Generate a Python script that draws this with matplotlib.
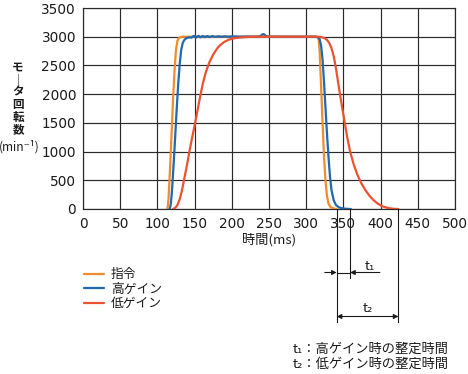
import matplotlib
matplotlib.use("Agg")
import matplotlib.pyplot as plt
from matplotlib.lines import Line2D
from matplotlib.transforms import blended_transform_factory

plt.rcParams['font.family'] = ['Noto Sans CJK JP', 'DejaVu Sans']

# ---- data (time in ms, speed in min^-1) ----
cmd_t = [113, 114, 115, 117, 119, 121, 123, 125, 127, 129, 132, 135,
         314, 316, 317, 318, 320, 322, 324, 326, 328, 330, 333, 337, 341]
cmd_v = [0, 40, 200, 700, 1300, 1900, 2400, 2780, 2930, 2980, 2998, 3000,
         3000, 2985, 2930, 2750, 2150, 1500, 900, 480, 220, 90, 30, 8, 0]

high_t = [116, 117, 118, 119, 120, 122, 124, 126, 128, 130, 132, 134, 136, 138, 140, 143, 146,
          149, 152, 155, 158, 161, 164, 167, 170, 174, 178, 182, 186, 190, 195, 200, 210,
          220, 230, 238, 241, 243, 246, 250, 260, 280, 300, 312,
          316, 318, 320, 322, 324, 326, 328, 330, 332, 334, 337, 340, 344, 349, 355, 360]
high_v = [0, 20, 90, 220, 400, 820, 1280, 1750, 2180, 2530, 2770, 2890, 2940, 2965, 2980, 2990, 2985,
          3015, 2986, 3016, 2990, 3013, 2992, 3012, 2995, 3010, 2997, 3008, 2998, 3006, 3000, 3005, 3000,
          3003, 3000, 3005, 3040, 3045, 3010, 3002, 3000, 3000, 3000, 3000,
          2990, 2960, 2850, 2600, 2200, 1750, 1300, 900, 560, 330, 150, 70, 28, 10, 3, 0]

low_t = [121, 124, 127, 130, 133, 136, 140, 143, 146, 150, 154, 157, 161, 165, 170, 175,
         180, 184, 190, 196, 202, 210, 218, 226, 240, 260, 280, 300, 316,
         320, 324, 328, 331, 334, 337, 340, 345, 350, 355, 359, 364, 369, 374, 380,
         385, 390, 396, 402, 408, 413, 418, 424]
low_v = [0, 20, 70, 170, 320, 520, 780, 1000, 1200, 1450, 1720, 1930, 2180, 2380, 2560, 2690,
         2790, 2850, 2910, 2950, 2970, 2985, 2993, 2998, 3000, 3000, 3000, 3000, 3000,
         2995, 2980, 2945, 2890, 2800, 2660, 2450, 2030, 1640, 1260, 1000, 770, 590, 450, 320,
         230, 160, 95, 50, 24, 10, 3, 0]

labels = ['指令', '高ゲイン', '低ゲイン']
colors = ['#F08C2E', '#1F68B2', '#EC5230']

xticks = [0, 50, 100, 150, 200, 250, 300, 350, 400, 450, 500]
yticks = [0, 500, 1000, 1500, 2000, 2500, 3000, 3500]

# settling-time markers (ms)
t_cmd_end = 341
t1_end = 359
t2_end = 424

notes = ['t\u2081：高ゲイン時の整定時間', 't\u2082：低ゲイン時の整定時間']

# ---- figure ----
W, H = 468, 374
fig = plt.figure(figsize=(W / 100, H / 100), dpi=100)
ax = fig.add_axes([83 / W, 1 - 209 / H, (455 - 83) / W, (209 - 8) / H])

grid_c = '#2a2a2a'
txt_c = '#1a1a1a'
lines = []
for tt, vv, lab, c in zip([cmd_t, high_t, low_t], [cmd_v, high_v, low_v], labels, colors):
    ln, = ax.plot(tt, vv, color=c, lw=1.6, label=lab, solid_capstyle='round', zorder=3)
    lines.append(ln)

ax.set_xlim(0, 500)
ax.set_ylim(0, 3500)
ax.set_xticks(xticks)
ax.set_yticks(yticks)
ax.set_xticklabels([str(v) for v in xticks], family='DejaVu Sans', fontsize=9.8, color=txt_c)
ax.set_yticklabels([str(v) for v in yticks], family='DejaVu Sans', fontsize=9.8, color=txt_c)
ax.tick_params(length=0, pad=6)
ax.tick_params(axis='y', pad=5)
ax.grid(True, color=grid_c, lw=0.85)
for s in ax.spines.values():
    s.set_color(grid_c)
    s.set_linewidth(0.85)
ax.set_xlabel('時間(ms)', fontsize=9.5, labelpad=1, color=txt_c)

# vertical y label
fig.text(18 / W, 1 - 98.5 / H, 'モ\n｜\nタ\n回\n転\n数', fontsize=8.3, ha='center', va='center',
         color=txt_c, linespacing=0.95, fontweight='bold')
fig.text(19.5 / W, 1 - 147 / H, '(min\u207b\u00b9)', fontsize=8.6, ha='center', va='center',
         color=txt_c)

# legend
fig.legend(handles=lines, labels=labels, loc='upper left', bbox_to_anchor=(84 / W, 1 - 268 / H),
           frameon=False, fontsize=9.2, handlelength=1.6, handletextpad=0.5,
           labelspacing=0.12, borderpad=0, borderaxespad=0, labelcolor=txt_c)

# settling time annotation
tr = blended_transform_factory(ax.transData, fig.transFigure)
def fy(py):
    return 1 - py / H
kw = dict(transform=tr, color=txt_c, lw=0.8, clip_on=False)
fig.add_artist(Line2D([t_cmd_end, t_cmd_end], [fy(209), fy(322)], **kw))
fig.add_artist(Line2D([t1_end, t1_end], [fy(209), fy(278)], **kw))
fig.add_artist(Line2D([t2_end, t2_end], [fy(209), fy(322)], **kw))

ap = dict(arrowstyle='-|>', color=txt_c, lw=0.8, mutation_scale=7, shrinkA=0, shrinkB=0)
ax.annotate('', xy=(t_cmd_end, fy(272.5)), xytext=(325, fy(272.5)), xycoords=tr, textcoords=tr,
            arrowprops=ap, annotation_clip=False)
ax.annotate('', xy=(t1_end, fy(272.5)), xytext=(399, fy(272.5)), xycoords=tr, textcoords=tr,
            arrowprops=ap, annotation_clip=False)
fig.add_artist(Line2D([t_cmd_end, t1_end], [fy(272.5), fy(272.5)], **kw))
ap2 = dict(arrowstyle='<|-|>', color=txt_c, lw=0.8, mutation_scale=7, shrinkA=0, shrinkB=0)
ax.annotate('', xy=(t2_end, fy(316.5)), xytext=(t_cmd_end, fy(316.5)), xycoords=tr, textcoords=tr,
            arrowprops=ap2, annotation_clip=False)
fig.text(370 / W, fy(266), 't\u2081', fontsize=9.5, ha='center', va='center', color=txt_c)
fig.text(368 / W, fy(309), 't\u2082', fontsize=9.5, ha='center', va='center', color=txt_c)

fig.text(293 / W, fy(349), notes[0], fontsize=9.5, ha='left', va='center', color=txt_c)
fig.text(293 / W, fy(364), notes[1], fontsize=9.5, ha='left', va='center', color=txt_c)

fig.savefig('out.png', dpi=100)
